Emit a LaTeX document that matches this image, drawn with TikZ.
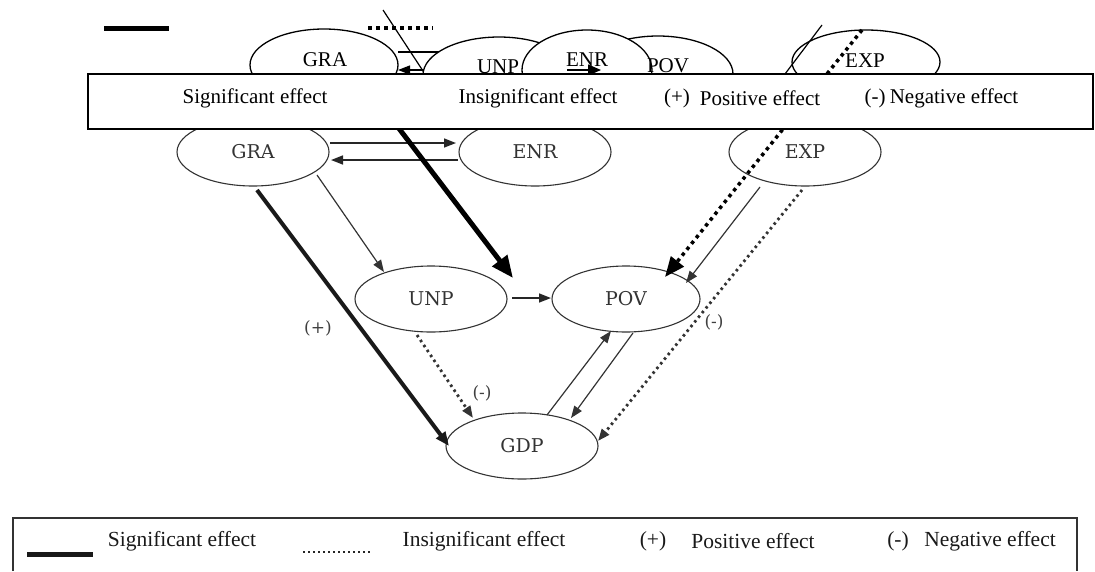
\documentclass[tikz,border=0pt]{standalone}
\usepackage{fontspec}
\setmainfont{Liberation Serif}
\newfontfamily\slab{DejaVu Serif}
\usetikzlibrary{shapes.geometric,arrows.meta}
\begin{document}
\begin{tikzpicture}[x=1pt,y=-1pt,
  lowell/.style={ellipse, draw=black!80, line width=1.1pt, inner sep=0pt, minimum width=152pt, minimum height=68pt, font=\slab\fontsize{19}{22}\selectfont, text=black!80},
  lowlbl/.style={font=\slab\fontsize{17}{20}\selectfont, text=black!75, inner sep=0pt},
  topell/.style={ellipse, draw=black, line width=1.3pt, fill=white, inner sep=0pt},
  toptxt/.style={font=\fontsize{21}{24}\selectfont, inner sep=0pt},
  bottxt/.style={font=\fontsize{21.5}{24}\selectfont, text=black!90, inner sep=0pt},
  ltip/.style={-{Triangle[length=12pt,width=9pt]}},
  thinarr/.style={draw=black!80, line width=1.2pt, ltip},
  medarr/.style={draw=black!85, line width=1.6pt, ltip},
  thickarr/.style={draw=black!90, line width=4pt, -{Triangle[length=14pt,width=11pt]}},
  dotarr/.style={draw=black!80, line width=2.8pt, dash pattern=on 2.5pt off 3.5pt, ltip},
  topline/.style={draw=black, line width=1.2pt},
]
\useasboundingbox (0,0) rectangle (1095,571);

% ---- lower (original) diagram ----
\node[lowell] (gra) at (253,152) {GRA};
\node[lowell] (enr) at (535,152) {ENR};
\node[lowell] (exp) at (805,152) {EXP};
\node[lowell, minimum height=66pt] (unp) at (431,299) {UNP};
\node[lowell, minimum width=148pt, minimum height=66pt] (pov) at (626,299) {POV};
\node[lowell, minimum height=66pt] (gdp) at (522,446) {GDP};

\coordinate (a1) at (330,143); \coordinate (a2) at (456,143);
\coordinate (b1) at (458,160); \coordinate (b2) at (331,160);
\coordinate (c1) at (317,175); \coordinate (c2) at (384,272);
\coordinate (d1) at (257,190); \coordinate (d2) at (449,446);
\coordinate (e1) at (512,298); \coordinate (e2) at (551,298);
\coordinate (f1) at (417,335); \coordinate (f2) at (473,418);
\coordinate (g1) at (547,415); \coordinate (g2) at (611,331);
\coordinate (h1) at (633,333); \coordinate (h2) at (571,418);
\coordinate (i1) at (760,187); \coordinate (i2) at (686,283);
\coordinate (j1) at (802,190); \coordinate (j2) at (598,441);

\draw[medarr] (a1) -- (a2);
\draw[medarr] (b1) -- (b2);
\draw[thinarr] (c1) -- (c2);
\draw[thickarr] (d1) -- (d2);
\draw[medarr] (e1) -- (e2);
\draw[dotarr] (f1) -- (f2);
\draw[thinarr] (g1) -- (g2);
\draw[thinarr] (h1) -- (h2);
\draw[thinarr] (i1) -- (i2);
\draw[dotarr] (j1) -- (j2);

\node[lowlbl] (lp) at (318,328) {(+)};
\node[lowlbl] (lm1) at (482,393) {(-)};
\node[lowlbl] (lm2) at (714,322) {(-)};

% ---- bottom legend ----
\draw[draw=black!80, line width=1.3pt] (13,571) -- (13,518) -- (1077,518) -- (1077,571);
\coordinate (bl1) at (27,554); \coordinate (bl2) at (93,554);
\draw[black!90, line width=5pt] (bl1) -- (bl2);
\coordinate (bd1) at (303,552); \coordinate (bd2) at (370,552);
\draw[black!85, line width=2.5pt, dash pattern=on 2pt off 3pt] (bd1) -- (bd2);
\node[bottxt] (bt1) at (182,541) {Significant effect};
\node[bottxt] (bt2) at (484,541) {Insignificant effect};
\node[bottxt] (bt3) at (653,541) {(+)};
\node[bottxt] (bt4) at (753,541) {Positive effect};
\node[bottxt] (bt5) at (898,541) {(-)};
\node[bottxt] (bt6) at (990,541) {Negative effect};

% ---- top overlay ----
\coordinate (tl1) at (104,28); \coordinate (tl2) at (169,28);
\draw[line width=5pt] (tl1) -- (tl2);
\coordinate (td1) at (368,28); \coordinate (td2) at (433,28);
\draw[line width=3.5pt, dash pattern=on 4pt off 4pt] (td1) -- (td2);

\node[topell, minimum width=148pt, minimum height=72pt] (tgra) at (324,65) {};
\coordinate (u1) at (398,52); \coordinate (u2) at (445,52);
\draw[topline] (u1) -- (u2);
\coordinate (v1) at (440,70); \coordinate (v2) at (398,70);
\draw[topline, -{Triangle[length=12pt,width=9pt]}] (v1) -- (v2);
\coordinate (w1) at (383,10); \coordinate (w2) at (425,74);
\draw[topline] (w1) -- (w2);
\node[topell, minimum width=152pt, minimum height=76pt] (tunp) at (499,75) {};
\node[topell, minimum width=150pt, minimum height=76pt] (tpov) at (658,74) {};
\node[topell, minimum width=130pt, minimum height=80pt] (tenr) at (587,70) {};
\node[topell, minimum width=148pt, minimum height=64pt] (texp) at (866,62) {};

\node[toptxt] (tgral) at (325,60) {GRA};
\node[toptxt] (tunpl) at (498,67) {UNP};
\node[toptxt] (tpovl) at (668,66) {POV};
\node[toptxt] (tenrl) at (587,60) {ENR};
\node[toptxt] (texpl) at (865,61) {EXP};

\coordinate (x1) at (567,70); \coordinate (x2) at (601,70);
\draw[topline, -{Triangle[length=13pt,width=11pt]}] (x1) -- (x2);
\coordinate (y1) at (822,25); \coordinate (y2) at (785,74);
\draw[topline] (y1) -- (y2);

\coordinate (z1) at (862,30); \coordinate (z2) at (665,277);
\draw[line width=3.5pt, dash pattern=on 3.5pt off 4pt, -{Triangle[length=20pt,width=16pt]}] (z1) -- (z2);
\coordinate (k1) at (362,80); \coordinate (k2) at (513,278);
\draw[line width=5pt, -{Triangle[length=22pt,width=18pt]}] (k1) -- (k2);

% top legend box
\node[draw, line width=1.5pt, fill=white, minimum width=1005pt, minimum height=55pt, inner sep=0pt] (legtop) at (590.5,101.5) {};
\node[toptxt] (lt1) at (255,98) {Significant effect};
\node[toptxt] (lt2) at (538,98) {Insignificant effect};
\node[toptxt] (lt3) at (677,98) {(+)};
\node[toptxt] (lt4) at (760,98) {Positive effect};
\node[toptxt] (lt5) at (875,98) {(-)};
\node[toptxt] (lt6) at (954,98) {Negative effect};
\end{tikzpicture}
\end{document}
